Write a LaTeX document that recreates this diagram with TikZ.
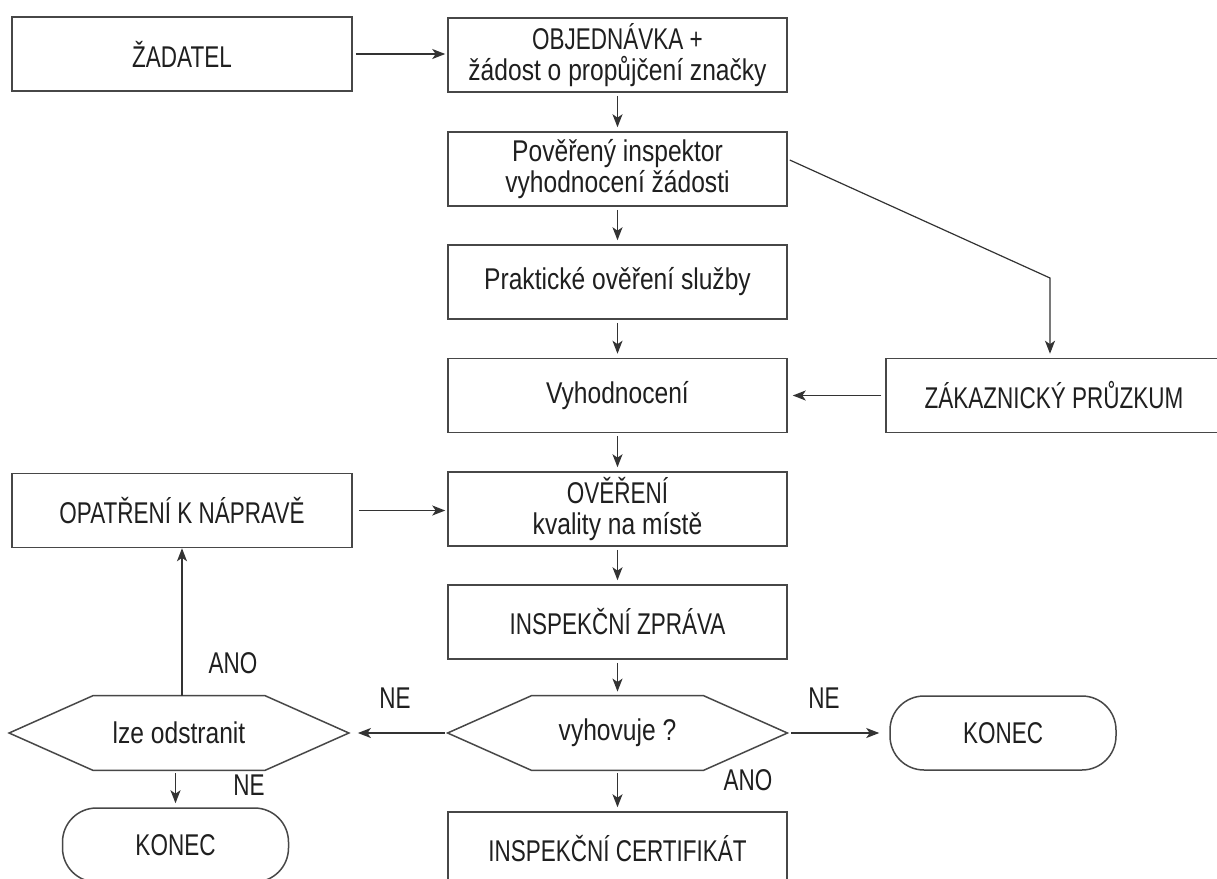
\documentclass[tikz,border=0pt]{standalone}
\usepackage{fontspec}
\setmainfont{Liberation Sans}[FakeStretch=0.82]
\newfontfamily\capsfont{Liberation Sans}[FakeStretch=0.75]
\usetikzlibrary{arrows.meta,calc}
\begin{document}
\begin{tikzpicture}[x=0.5pt,y=-0.5pt,
  base/.style={rectangle, inner sep=0pt, align=center, text=black!88,
    font=\fontsize{15}{15.5}\selectfont},
  box/.style={base, draw=black!72, line width=0.75pt,
    minimum width=169.5pt, minimum height=37pt},
  capbox/.style={box, font=\capsfont\fontsize{15}{15.5}\selectfont},
  hexnode/.style={base, minimum width=169.5pt, minimum height=37pt},
  hexline/.style={draw=black!72, line width=0.75pt, line join=miter},
  term/.style={base, draw=black!72, line width=0.75pt, rounded corners=17pt,
    minimum width=113pt, minimum height=37pt,
    font=\capsfont\fontsize{15}{15.5}\selectfont},
  lbl/.style={base, font=\capsfont\fontsize{15}{15.5}\selectfont},
  arr/.style={-{Stealth[length=6.5pt,width=5pt,inset=1.7pt]}, draw=black!80,
    line width=0.7pt, shorten <=1.5pt, shorten >=2pt}]
\fill[white] (0,0) rectangle (1217,879);
\useasboundingbox (0,0) rectangle (1217,879);
\clip (0,0) rectangle (1217,879);

% nodes
\node[capbox, minimum width=170pt] (zadatel) at (182,54) {ŽADATEL};
\node[box] (obj) at (617.5,55) {{\capsfont OBJEDNÁVKA +}\\žádost o propůjčení značky};
\node[box] (pov) at (617.5,169) {Pověřený inspektor\\vyhodnocení žádosti};
\node[box] (prak) at (617.5,282) {Praktické ověření služby};
\node[box] (vyh) at (617.5,395.5) {Vyhodnocení};
\node[box] (over) at (617.5,509) {{\capsfont OVĚŘENÍ}\\kvality na místě};
\node[capbox] (zprava) at (617.5,622) {INSPEKČNÍ ZPRÁVA};
\node[hexnode] (hex) at (617.5,733) {vyhovuje ?};
\node[capbox] (cert) at (617.5,849) {INSPEKČNÍ CERTIFIKÁT};
\node[capbox, minimum width=168pt] (zak) at (1054,395.5) {ZÁKAZNICKÝ PRŮZKUM};
\node[capbox, minimum width=170pt] (opat) at (182,510.5) {OPATŘENÍ K NÁPRAVĚ};
\node[hexnode] (hexL) at (179,733) {lze odstranit};
\node[term] (konecL) at (175.5,845) {KONEC};
\node[term] (konecR) at (1003,733) {KONEC};

% hexagon outlines
\draw[hexline] (hex.west) -- ($(hex.north west)+(84,0)$) -- ($(hex.north east)+(-84,0)$)
  -- (hex.east) -- ($(hex.south east)+(-84,0)$) -- ($(hex.south west)+(84,0)$) -- cycle;
\draw[hexline] (hexL.west) -- ($(hexL.north west)+(84,0)$) -- ($(hexL.north east)+(-84,0)$)
  -- (hexL.east) -- ($(hexL.south east)+(-84,0)$) -- ($(hexL.south west)+(84,0)$) -- cycle;

% labels
\node[lbl] (ne1) at (395,698) {NE};
\node[lbl] (ne2) at (824,698) {NE};
\node[lbl] (ano1) at (748,780) {ANO};
\node[lbl] (ano2) at (233,663) {ANO};
\node[lbl] (ne3) at (249,785) {NE};

% connectors
\draw[arr, shorten >=1pt] (zadatel.east) -- (zadatel.east -| obj.west);
\draw[arr] (obj.south) -- (pov.north);
\draw[arr] (pov.south) -- (prak.north);
\draw[arr] (prak.south) -- (vyh.north);
\draw[arr] (vyh.south) -- (over.north);
\draw[arr] (over.south) -- (zprava.north);
\draw[arr] (zprava.south) -- (hex.north);
\draw[arr] (hex.south) -- (cert.north);
\coordinate (bend) at (1050,278);
\draw[arr, line width=0.6pt, shorten <=0pt] ($(pov.east)+(2,-9)$) -- (bend) -- (bend |- zak.north);
\draw[arr, shorten <=2pt, shorten >=2.5pt] (zak.west) -- (zak.west -| vyh.east);
\draw[arr, shorten <=3pt, shorten >=1pt] (opat.east) -- (opat.east -| over.west);
\draw[arr, shorten <=0pt, shorten >=0pt] (opat.south |- hexL.north) -- (opat.south);
\draw[arr, shorten <=1.5pt, shorten >=4.5pt] (hex.west) -- (hex.west -| hexL.east);
\draw[arr, shorten <=2pt, shorten >=5pt] (hex.east) -- (hex.east -| konecR.west);
\draw[arr, shorten <=1.5pt, shorten >=2pt] (konecL.north |- hexL.south) -- (konecL.north);
\end{tikzpicture}
\end{document}
